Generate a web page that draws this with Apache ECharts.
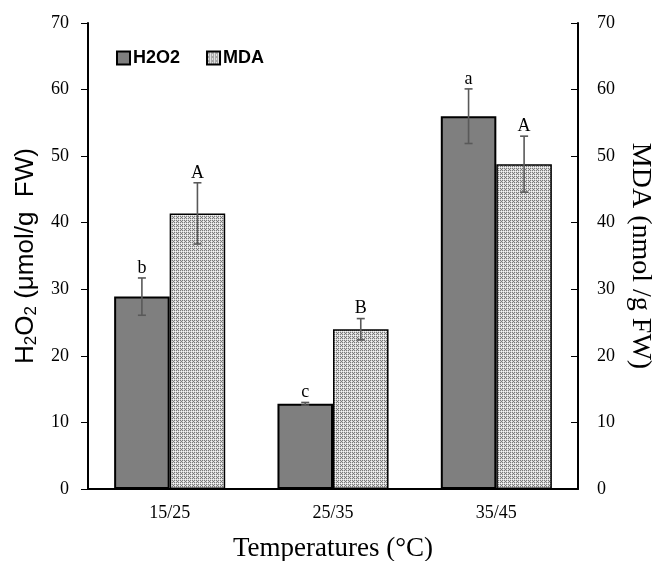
<!DOCTYPE html>
<html>
<head>
<meta charset="utf-8">
<script src="https://cdn.jsdelivr.net/npm/echarts@6/dist/echarts.min.js"></script>
<style>
  html, body { margin: 0; padding: 0; background: #fff; }
  #chart { width: 652px; height: 561px; }
</style>
</head>
<body>
<div id="chart"></div>
<script>
// data
const categories = ['15/25', '25/35', '35/45']
const h2o2 = [28.9, 12.8, 56.0]
const h2o2Err = [2.8, 0.2, 4.1]
const h2o2Letters = ['b', 'c', 'a']
const mda = [41.4, 24.0, 48.8]
const mdaErr = [4.6, 1.6, 4.2]
const mdaLetters = ['A', 'B', 'A']

const catGap = 0.32
const barOffset = (1 - catGap) / 4

// small checkered pattern for the MDA bars
function makePattern() {
  const c = document.createElement('canvas')
  c.width = 4
  c.height = 4
  const ctx = c.getContext('2d')
  ctx.fillStyle = '#d4d4d4'
  ctx.fillRect(0, 0, 4, 4)
  ctx.fillStyle = '#7a7a7a'
  ;[[0, 0], [2, 0], [1, 1], [0, 2], [2, 2]].forEach(p => ctx.fillRect(p[0], p[1], 1, 1))
  ctx.fillStyle = '#f4f4f4'
  ;[[3, 3], [1, 3], [3, 1]].forEach(p => ctx.fillRect(p[0], p[1], 1, 1))
  return c
}
const pattern = { image: makePattern(), repeat: 'repeat' }

// error bar + letter drawn on top of each bar
function errRender(vals, errs, letters, offset) {
  return function (params, api) {
    const i = params.dataIndex
    const band = api.size([1, 0])[0]
    const x = api.coord([i, 0])[0] + offset * band
    const yTop = api.coord([i, vals[i] + errs[i]])[1]
    const yBot = api.coord([i, vals[i] - errs[i]])[1]
    const st = { stroke: '#595959', lineWidth: 1.6 }
    return {
      type: 'group',
      children: [
        { type: 'line', shape: { x1: x, y1: yTop, x2: x, y2: yBot }, style: st },
        { type: 'line', shape: { x1: x - 4, y1: yTop, x2: x + 4, y2: yTop }, style: st },
        { type: 'line', shape: { x1: x - 4, y1: yBot, x2: x + 4, y2: yBot }, style: st },
        {
          type: 'text',
          x: x,
          y: yTop - 1,
          style: {
            text: letters[i],
            font: '18px "Liberation Serif", "Times New Roman", serif',
            fill: '#000',
            align: 'center',
            verticalAlign: 'bottom'
          }
        }
      ]
    }
  }
}

const serif = '"Liberation Serif", "Times New Roman", serif'
const sans = '"Liberation Sans", Arial, sans-serif'

let mycharts = echarts.init(document.getElementById('chart'))
mycharts.setOption({
  animation: false,
  grid: { left: 88, right: 74, top: 23, bottom: 72, outerBoundsMode: 'none' },
  legend: {
    left: 111,
    top: 44,
    icon: 'rect',
    itemWidth: 13,
    itemHeight: 13,
    itemGap: 26,
    textStyle: { fontFamily: sans, fontWeight: 'bold', fontSize: 18, color: '#000', padding: [0, 0, 0, -2] },
    data: ['H2O2', 'MDA']
  },
  xAxis: {
    type: 'category',
    data: categories,
    axisLine: { lineStyle: { color: '#000', width: 2 } },
    axisTick: { show: false },
    axisLabel: { fontFamily: serif, fontSize: 18, color: '#000', margin: 15 },
    name: 'Temperatures (°C)',
    nameLocation: 'middle',
    nameGap: 46,
    nameTextStyle: { fontFamily: serif, fontSize: 27, color: '#000' }
  },
  yAxis: [
    {
      type: 'value',
      min: 0,
      max: 70,
      interval: 10,
      splitLine: { show: false },
      axisLine: { show: true, lineStyle: { color: '#000', width: 2 } },
      axisTick: { show: true, length: 7, lineStyle: { color: '#000', width: 1 } },
      axisLabel: { fontFamily: serif, fontSize: 18, color: '#000', margin: 19 },
      name: '{a|H}{s|2}{a|O}{s|2}{a| (μmol/g  FW)}',
      nameLocation: 'middle',
      nameGap: 46,
      nameTextStyle: {
        rich: {
          a: { fontFamily: sans, fontSize: 26, color: '#000' },
          s: { fontFamily: sans, fontSize: 17, color: '#000', verticalAlign: 'bottom', padding: [11, 0, 0, 0] }
        }
      }
    },
    {
      type: 'value',
      min: 0,
      max: 70,
      interval: 10,
      position: 'right',
      splitLine: { show: false },
      axisLine: { show: true, lineStyle: { color: '#000', width: 2 } },
      axisTick: { show: true, inside: true, length: 7, lineStyle: { color: '#000', width: 1 } },
      axisLabel: { fontFamily: serif, fontSize: 18, color: '#000', margin: 19 },
      name: 'MDA (nmol /g FW)',
      nameLocation: 'middle',
      nameGap: 48,
      nameRotate: -90,
      nameTextStyle: { fontFamily: serif, fontSize: 28, color: '#000' }
    }
  ],
  series: [
    {
      name: 'H2O2',
      type: 'bar',
      data: h2o2,
      barGap: 0,
      barCategoryGap: '32%',
      itemStyle: { color: '#7f7f7f', borderColor: '#000', borderWidth: 2 }
    },
    {
      name: 'MDA',
      type: 'bar',
      yAxisIndex: 1,
      data: mda,
      itemStyle: { color: pattern, borderColor: '#000', borderWidth: 1.5 }
    },
    {
      type: 'custom',
      z: 10,
      data: h2o2.map((v, i) => [i, v]),
      renderItem: errRender(h2o2, h2o2Err, h2o2Letters, -barOffset)
    },
    {
      type: 'custom',
      z: 10,
      yAxisIndex: 1,
      data: mda.map((v, i) => [i, v]),
      renderItem: errRender(mda, mdaErr, mdaLetters, barOffset)
    }
  ]
})
</script>
</body>
</html>
